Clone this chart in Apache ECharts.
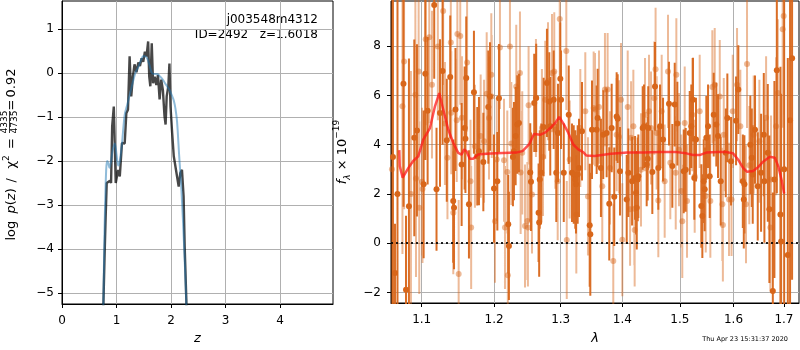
<!DOCTYPE html>
<html>
<head>
<meta charset="utf-8">
<script src="https://cdn.jsdelivr.net/npm/echarts@6/dist/echarts.min.js"></script>
<style>
  html, body { margin: 0; padding: 0; background: #fff; }
  #chart { width: 800px; height: 350px; }
</style>
</head>
<body>
<div id="chart"></div>
<script>
// ---- left panel: log p(z)
var zTicks = [0, 1, 2, 3, 4];
var pTicks = [-5, -4, -3, -2, -1, 0, 1];
var zBlack = [0.745, 0.78, 0.80, 0.82, 0.85, 0.88, 0.90, 0.92, 0.95, 0.985, 1.03, 1.06, 1.10, 1.15, 1.18, 1.21, 1.24, 1.27, 1.30, 1.33, 1.366, 1.40, 1.43, 1.46, 1.49, 1.52, 1.55, 1.58, 1.60, 1.62, 1.646, 1.67, 1.70, 1.73, 1.76, 1.79, 1.82, 1.85, 1.88, 1.90, 1.92, 1.95, 1.97, 1.99, 2.02, 2.05, 2.08, 2.11, 2.14, 2.17, 2.20, 2.23, 2.25, 2.28, 2.29];
var pBlack = [-6.0, -4.2, -3.3, -2.5, -2.5, -2.45, -2.5, -1.21, -0.76, -2.5, -2.2, -2.35, -1.59, -1.6, -0.91, -0.83, 0.38, -0.53, -0.08, 0.2, 0.02, 0.24, 0.16, 0.34, 0.26, 0.49, 0.38, 0.72, -0.08, -0.30, 0.68, -0.23, -0.08, -0.27, -0.04, -0.6, -0.15, -0.38, -0.98, -1.17, -0.53, -0.30, 0.22, -0.76, -1.36, -1.89, -1.93, -2.35, -2.58, -2.27, -2.2, -2.8, -3.94, -5.15, -6.0];
var zBlue = [0.75, 0.78, 0.81, 0.83, 0.85, 0.87, 0.90, 0.93, 0.97, 1.00, 1.03, 1.06, 1.10, 1.15, 1.20, 1.25, 1.30, 1.35, 1.40, 1.45, 1.49, 1.55, 1.60, 1.65, 1.70, 1.75, 1.80, 1.85, 1.90, 1.97, 2.02, 2.05, 2.08, 2.11, 2.15, 2.19, 2.24, 2.27, 2.30];
var pBlue = [-6.0, -3.6, -2.2, -2.0, -2.05, -2.15, -2.0, -1.75, -1.6, -1.85, -2.1, -2.0, -1.6, -0.95, -0.7, -0.45, -0.2, 0.02, 0.14, 0.3, 0.39, 0.36, 0.2, 0.0, -0.02, -0.02, -0.08, -0.15, -0.25, -0.38, -0.52, -0.62, -0.8, -1.1, -1.9, -2.65, -3.94, -4.9, -6.0];

// ---- right panel: spectrum (lambda in micron, flux in 1e-19)
var lamTicks = [1.1, 1.2, 1.3, 1.4, 1.5, 1.6, 1.7];
var fluxTicks = [-2, 0, 2, 4, 6, 8];
var darkWave = [1.0627, 1.0653, 1.0685, 1.0762, 1.0795, 1.0833, 1.0903, 1.0938, 1.1026, 1.1048, 1.1079, 1.1167, 1.1198, 1.1245, 1.1280, 1.1337, 1.1384, 1.1425, 1.1436, 1.1456,
  1.1541, 1.1583, 1.1594, 1.1605, 1.1643, 1.1713, 1.1760, 1.1784, 1.1846, 1.1917, 1.1941, 1.1999, 1.2047, 1.2071, 1.2206, 1.2216, 1.2275, 1.2290, 1.2315, 1.2339, 1.2364,
  1.2533, 1.2544, 1.2593, 1.2623, 1.2659, 1.2668, 1.2677, 1.2700, 1.2736, 1.2787, 1.2823, 1.2838, 1.2891, 1.2931, 1.2958, 1.2994, 1.3005, 1.3048, 1.3126, 1.3178, 1.3205, 1.3230, 1.3241, 1.3268, 1.3289, 1.3337, 1.3461, 1.3471, 1.3498,
  1.3574, 1.3590, 1.3644, 1.3682, 1.3738, 1.3781, 1.3821, 1.3864, 1.3904, 1.3921, 1.3960, 1.4073, 1.4101, 1.4164, 1.4215, 1.4232, 1.4244, 1.4261, 1.4271, 1.4346, 1.4368, 1.4415, 1.4432, 1.4442, 1.4513, 1.4560, 1.4618, 1.4648,
  1.4701, 1.4807, 1.4866, 1.4909, 1.4956, 1.5071, 1.5107, 1.5180, 1.5209, 1.5240, 1.5264, 1.5295, 1.5393, 1.5412, 1.5438, 1.5456, 1.5486, 1.5518, 1.5549, 1.5624, 1.5673, 1.5705, 1.5756, 1.5852, 1.5882,
  1.5953, 1.6049, 1.6093, 1.6180, 1.6199, 1.6211, 1.6327, 1.6355, 1.6374, 1.6419, 1.6473, 1.6539, 1.6593, 1.6605, 1.6673, 1.6705, 1.6774, 1.6806, 1.6855, 1.6928, 1.6942, 1.7004, 1.7079, 1.7125, 1.7167];
var darkFlux = [3.5, -1.21, 2.0, 6.48, -1.89, 1.5, 4.28, 4.58, 2.39, 6.88, 5.38, 9.68, 2.19, 5.29, 7.0, 4.18, 6.75, 1.71, 1.44, 5.43,
  3.2, 4.68, 4.24, 6.71, 1.58, 6.13, 3.53, 3.74, 3.3, 5.53, 5.96, 2.22, 2.52, 5.89, 0.77, -0.11, 3.5, 3.74, 4.35, 4.82, 4.88,
  2.87, 2.5, 5.7, 5.9, 1.24, 0.84, 2.59, 2.86, 4.72, 6.51, 5.76, 4.75, 5.83, 2.86, 4.48, 6.68, 5.83, 2.86, 5.22, 2.86, 2.79, 2.59, 2.39, 2.79, 3.06, 4.55, 0.73, 0.36, 4.61,
  4.61, 5.09, 3.06, 4.41, 4.48, 1.6, 4.68, 1.89, 5.15, 5.06, 2.92, 1.78, 2.86, 2.52, 2.65, 2.05, 1.44, 2.59, 2.72, 4.68, 4.75, 3.2, 3.43, 4.68, 2.89, 6.37, 3.06, 4.75,
  4.21, 5.67, 3.14, 5.63, 4.86, 2.92, 2.98, 4.48, 4.75, 5.83, 2.65, 4.21, 1.51, 1.1, 2.52, 2.19, 4.28, 4.75, 2.72, 5.22, 4.82, 4.35, 2.52, 3.67, 5.09,
  3.33, 4.97, 6.24, 2.52, 1.78, 2.39, 4.0, 3.47, 2.79, 4.61, 2.31, 2.86, 4.41, 2.52, 3.67, 1.38, -1.94, 2.59, 7.03, 1.17, 0.07, 3.0, -0.48, 5.0, 7.51];
var darkErr = [9, 2, 8, 5, 3, 6, 4, 3.5, 3, 3.5, 3, 3, 2.5, 3, 3, 2.5, 2.5, 2.5, 2.5, 2.5,
  2.5, 2.5, 2.2, 2.5, 2.2, 2.5, 2, 2.2, 2, 2.3, 2.2, 2.2, 2, 2.2, 2, 2.2, 2, 2, 2, 2, 2,
  2, 2, 2, 2.2, 2, 2.2, 2, 2, 2, 2.2, 2, 2, 2, 2, 2, 2.3, 2, 2, 2, 2, 2, 2, 2, 2, 2, 2, 2.5, 2.5, 2,
  1.8, 2, 2, 1.8, 1.8, 2.3, 1.8, 2, 1.8, 1.8, 1.8, 1.8, 1.8, 1.8, 1.7, 1.7, 1.7, 1.7, 1.7, 1.7, 1.7, 1.7, 1.7, 1.7, 1.7, 1.8, 1.7, 1.7,
  1.7, 1.7, 1.7, 1.7, 1.7, 1.7, 1.7, 1.7, 1.7, 1.7, 1.7, 1.7, 1.7, 1.7, 1.7, 1.7, 1.7, 1.7, 1.7, 1.7, 1.7, 1.7, 1.8, 1.8, 1.8,
  1.8, 1.8, 1.8, 1.9, 2, 2, 2, 2, 2, 2.2, 2.2, 2.4, 2.5, 2.5, 2.8, 3, 4, 4, 5, 6, 6, 9, 8, 10, 9];
var lightWave = [1.0614, 1.0749, 1.0770, 1.0859, 1.0917, 1.0925, 1.0960, 1.0968, 1.1004, 1.1011, 1.1054, 1.1101, 1.1137, 1.1216, 1.1288, 1.1312, 1.1346, 1.1392, 1.1398, 1.1426, 1.1473, 1.1482, 1.1500,
  1.1522, 1.1545, 1.1617, 1.1665, 1.1674, 1.1727, 1.1808, 1.1856, 1.1894, 1.1927, 1.1960, 1.1966, 1.2013, 1.2038, 1.2085, 1.2144, 1.2158, 1.2192, 1.2200, 1.2231, 1.2251, 1.2324, 1.2379, 1.2389, 1.2413, 1.2454,
  1.2490, 1.2498, 1.2508, 1.2559, 1.2619, 1.2710, 1.2726, 1.2761, 1.2803, 1.2865, 1.2900, 1.2916, 1.2953, 1.2985, 1.3088, 1.3095, 1.3141, 1.3246, 1.3310, 1.3390, 1.3433, 1.3525,
  1.3547, 1.3612, 1.3666, 1.3710, 1.3754, 1.3793, 1.3848, 1.3904, 1.3943, 1.3977, 1.3999, 1.4090, 1.4130, 1.4147, 1.4186, 1.4203, 1.4208, 1.4317, 1.4386, 1.4455, 1.4490, 1.4547, 1.4570, 1.4589, 1.4618, 1.4677,
  1.4730, 1.4789, 1.4830, 1.4927, 1.4938, 1.4986, 1.5027, 1.5045, 1.5089, 1.5131, 1.5227, 1.5271, 1.5363, 1.5475, 1.5561, 1.5598, 1.5643, 1.5738, 1.5787, 1.5797, 1.5814, 1.5914,
  1.5962, 1.5985, 1.6068, 1.6132, 1.6242, 1.6262, 1.6307, 1.6393, 1.6505, 1.6639, 1.6724, 1.6738, 1.6841, 1.6875, 1.6974, 1.6994];
var lightFlux = [3.0, 5.56, 7.38, 2.0, 6.03, 2.63, 6.98, 1.44, 2.5, 2.2, 8.29, 8.37, 6.44, 7.99, 9.43, 4.86, 3.47, 8.15, 5.3, 1.24, 4.99, 8.5, -1.25,
  8.42, 5.1, 7.34, 2.52, 0.64, 3.94, 4.35, 4.14, 6.07, 5.09, 6.84, 5.96, 0.89, 3.4, 7.95, 3.37, 0.64, 2.89, -1.3, 7.99, 4.05, 6.37, 6.91, 2.87, 3.67, 0.7,
  0.9, 0.64, 5.6, 1.98, 5.9, 4.68, 3.5, 5.83, 6.58, 6.91, 6.98, 4.61, 2.52, 9.11, 7.81, 0.13, 3.4, 1.17, 4.68, 5.36, 1.9, 5.49,
  5.43, 5.53, 2.31, 6.24, 6.24, 3.06, -0.72, 4.41, 4.32, 5.83, 0.14, 5.53, 1.38, 4.28, 4.75, 1.4, 0.54, 2.98, 5.22, 5.36, 4.68, 5.89, 7.07, 4.48, 1.73, 5.36,
  2.52, 6.98, 3.27, 2.86, 6.84, 3.8, 2.12, 0.89, 4.88, 1.71, 5.22, 2.72, 5.36, 1.92, 1.71, 6.35, 6.44, 5.96, 1.58, 0.74, 4.41, 1.78,
  1.78, 5.36, 6.44, 4.75, 1.58, 7.28, 3.17, 4.41, 4.14, 5.1, 0.64, 2.59, 4.75, 6.1, 8.69, 9.23];
var lightErr = [9, 6, 6, 5, 4, 4, 4, 3.5, 3, 3, 3.5, 3.5, 3, 3, 3, 2.5, 2.5, 3, 2.5, 2.5, 2.5, 3, 3,
  2.8, 2.5, 2.8, 2.5, 2.5, 2.5, 2.5, 2.5, 2.5, 2.5, 2.5, 2.5, 2.5, 2.5, 2.5, 2.5, 2.5, 2.5, 2.5, 2.5, 2.5, 2.5, 2.5, 2.5, 2.5, 2.5,
  2.4, 2.4, 2.4, 2.4, 2.4, 2.4, 2.4, 2.4, 2.4, 2.4, 2.4, 2.4, 2.4, 2.5, 2.4, 2.4, 2.4, 2.4, 2.4, 2.4, 2.4, 2.3,
  2.3, 2.3, 2.3, 2.3, 2.3, 2.3, 2.3, 2.3, 2.3, 2.3, 2.3, 2.3, 2.3, 2.3, 2.3, 2.3, 2.3, 2.3, 2.3, 2.3, 2.3, 2.3, 2.5, 2.3, 2.3, 2.3,
  2.3, 2.3, 2.3, 2.3, 2.3, 2.3, 2.3, 2.3, 2.3, 2.3, 2.3, 2.3, 2.3, 2.3, 2.3, 2.3, 2.3, 2.3, 2.3, 2.3, 2.3, 2.3,
  2.3, 2.3, 2.3, 2.3, 2.4, 2.6, 2.4, 2.4, 2.5, 2.5, 2.6, 2.6, 2.8, 3, 4, 4];
var modelWave = [1.0708, 1.0714, 1.0752, 1.0826, 1.0891, 1.0955, 1.1021, 1.1110, 1.1177, 1.1235, 1.1289, 1.1357, 1.1425, 1.1494, 1.1540, 1.1576, 1.1609, 1.1655, 1.1701, 1.1771, 1.1889, 1.2031, 1.2320, 1.2417, 1.2515, 1.2589, 1.2689, 1.2764, 1.2840, 1.2916, 1.2977, 1.3043, 1.3120, 1.3198, 1.3277, 1.3356, 1.3409, 1.3541, 1.3808, 1.4082, 1.4362, 1.4648, 1.4939, 1.5118, 1.5240, 1.5361, 1.5485, 1.5704, 1.5862, 1.5991, 1.6088, 1.6185, 1.6263, 1.6381, 1.6480, 1.6580, 1.6714, 1.6815, 1.6883, 1.6950, 1.7004];
var modelFlux = [3.78, 3.13, 2.66, 3.06, 3.35, 3.53, 4.21, 4.68, 5.56, 6.10, 5.43, 4.62, 4.08, 3.67, 3.60, 3.81, 3.74, 3.43, 3.43, 3.60, 3.63, 3.65, 3.68, 3.74, 4.01, 4.44, 4.41, 4.50, 4.68, 4.89, 5.13, 4.86, 4.48, 4.01, 3.81, 3.70, 3.56, 3.54, 3.63, 3.68, 3.68, 3.70, 3.70, 3.65, 3.58, 3.58, 3.68, 3.70, 3.70, 3.65, 3.40, 3.06, 2.90, 2.93, 3.09, 3.31, 3.51, 3.47, 3.13, 2.59, 2.02];

var FONT = 'DejaVu Sans';
var DARK = '#d8661a';

function minus(v) {
  return String(v).replace('-', '\u2212');
}

function zip(xs, ys) {
  return xs.map(function (x, i) { return [x, ys[i]]; });
}

// error bars as one broken line: (x, lo) -> (x, hi), then a gap
function errBars(waves, flux, err, color, opacity, z) {
  var pts = [];
  waves.forEach(function (w, i) {
    var x = Math.log(w);
    pts.push([x, flux[i] - err[i]], [x, flux[i] + err[i]], [x, '-']);
  });
  return {
    type: 'line',
    xAxisIndex: 1,
    yAxisIndex: 1,
    z: z,
    silent: true,
    showSymbol: false,
    symbol: 'none',
    connectNulls: false,
    clip: true,
    lineStyle: { color: color, width: 2, opacity: opacity, cap: 'butt' },
    data: pts
  };
}

function dots(waves, flux, color, opacity, z) {
  return {
    type: 'scatter',
    xAxisIndex: 1,
    yAxisIndex: 1,
    z: z,
    silent: true,
    symbolSize: 6,
    itemStyle: { color: color, opacity: opacity },
    data: waves.map(function (w, i) { return [Math.log(w), flux[i]]; })
  };
}

function vtext(x, y, text, size, extra) {
  return {
    type: 'text', x: x, y: y, rotation: Math.PI / 2,
    style: Object.assign({
      text: text, fontSize: size, fontFamily: FONT, fill: '#000',
      align: 'left', verticalAlign: 'middle', textAlign: 'left', textVerticalAlign: 'middle'
    }, extra || {})
  };
}

var tickStyle = { show: true, inside: false, length: 4, lineStyle: { color: '#000', width: 1 } };
var gridLine = { show: true, lineStyle: { color: '#b0b0b0', width: 1 } };
var labelBase = { color: '#000', fontFamily: FONT, fontSize: 12 };

var chart = echarts.init(document.getElementById('chart'));
chart.setOption({
  animation: false,
  textStyle: { fontFamily: FONT },
  grid: [
    { left: 62, top: 1, width: 271, height: 303, show: true, borderColor: '#000', borderWidth: 1 },
    { left: 391, top: 1, width: 408, height: 303, show: true, borderColor: '#000', borderWidth: 1 }
  ],
  xAxis: [{
    gridIndex: 0, type: 'value', min: 0, max: 4.97,
    name: 'z', nameLocation: 'middle', nameGap: 28,
    nameTextStyle: { color: '#000', fontFamily: FONT, fontSize: 13, fontStyle: 'italic' },
    axisLine: { show: true, onZero: false, lineStyle: { color: '#000' } },
    axisTick: Object.assign({ customValues: zTicks }, tickStyle),
    axisLabel: Object.assign({ customValues: zTicks, margin: 11, formatter: minus }, labelBase),
    splitLine: gridLine
  }, {
    gridIndex: 1, type: 'value', min: Math.log(1.0602), max: Math.log(1.731),
    name: 'λ', nameLocation: 'middle', nameGap: 29,
    nameTextStyle: { color: '#000', fontFamily: FONT, fontSize: 13, fontStyle: 'italic' },
    axisLine: { show: true, onZero: false, lineStyle: { color: '#000' } },
    axisTick: Object.assign({ customValues: lamTicks.map(Math.log) }, tickStyle),
    axisLabel: Object.assign({
      customValues: lamTicks.map(Math.log), margin: 11,
      formatter: function (v) { return Math.exp(v).toFixed(1); }
    }, labelBase),
    splitLine: gridLine
  }],
  yAxis: [{
    gridIndex: 0, type: 'value', min: -5.25, max: 1.64,
    axisLine: { show: true, onZero: false, lineStyle: { color: '#000' } },
    axisTick: Object.assign({ customValues: pTicks }, tickStyle),
    axisLabel: Object.assign({ customValues: pTicks, margin: 8, formatter: minus }, labelBase),
    splitLine: gridLine
  }, {
    gridIndex: 1, type: 'value', min: -2.43, max: 9.84,
    name: '{i|f}{sub|λ}{n| × 10}{sup|−19}', nameLocation: 'middle', nameGap: 34,
    nameTextStyle: {
      color: '#000', fontFamily: FONT, fontSize: 12,
      rich: {
        i: { fontStyle: 'italic', fontSize: 13, fontFamily: FONT, lineHeight: 20 },
        sub: { fontStyle: 'italic', fontSize: 9, fontFamily: FONT, verticalAlign: 'bottom', lineHeight: 20 },
        n: { fontSize: 13, fontFamily: FONT, lineHeight: 20 },
        sup: { fontSize: 9, fontFamily: FONT, verticalAlign: 'top', lineHeight: 20 }
      }
    },
    axisLine: { show: true, onZero: false, lineStyle: { color: '#000' } },
    axisTick: Object.assign({ customValues: fluxTicks }, tickStyle),
    axisLabel: Object.assign({ customValues: fluxTicks, margin: 10, formatter: minus }, labelBase),
    splitLine: gridLine
  }],
  graphic: [
    {
      type: 'text', x: 318, y: 20,
      style: { text: 'j003548m4312', font: '12px "DejaVu Sans"', fill: '#000', align: 'right', verticalAlign: 'middle', textAlign: 'right', textVerticalAlign: 'middle' }
    },
    {
      type: 'text', x: 318, y: 35,
      style: { text: 'ID=2492   z=1.6018', font: '12px "DejaVu Sans"', fill: '#000', align: 'right', verticalAlign: 'middle', textAlign: 'right', textVerticalAlign: 'middle' }
    },
    // y label of the left panel, laid out piece by piece like the mathtext original
    vtext(11.5, 240.5, 'log', 13),
    vtext(11.5, 213.5, '{i|p}{n|(}{i|z}{n|)}', 13, {
      rich: {
        n: { fontSize: 13, fontFamily: FONT, fill: '#000' },
        i: { fontSize: 13, fontFamily: FONT, fontStyle: 'italic', fill: '#000' }
      }
    }),
    vtext(11.5, 182.5, '/', 13),
    vtext(11.5, 168.5, '{i|χ}{s|2}', 13, {
      rich: {
        i: { fontSize: 13, fontFamily: FONT, fill: '#000', lineHeight: 18 },
        s: { fontSize: 9, fontFamily: FONT, fill: '#000', verticalAlign: 'top', lineHeight: 18 }
      }
    }),
    vtext(11.5, 149, '=', 13),
    {
      type: 'text', x: 5, y: 122, rotation: Math.PI / 2,
      style: { text: '4335', font: '9px "DejaVu Sans"', fill: '#000', align: 'center', verticalAlign: 'middle', textAlign: 'center', textVerticalAlign: 'middle' }
    },
    {
      type: 'line', shape: { x1: 9.5, y1: 111, x2: 9.5, y2: 133 },
      style: { stroke: '#000', lineWidth: 0.8 }
    },
    {
      type: 'text', x: 14.5, y: 122, rotation: Math.PI / 2,
      style: { text: '4735', font: '9px "DejaVu Sans"', fill: '#000', align: 'center', verticalAlign: 'middle', textAlign: 'center', textVerticalAlign: 'middle' }
    },
    vtext(11.5, 110.5, '=', 13),
    vtext(11.5, 97.5, '0.92', 13),
    {
      type: 'text', x: 788, y: 339,
      style: { text: 'Thu Apr 23 15:31:37 2020', font: '6.5px "DejaVu Sans"', fill: '#000', align: 'right', verticalAlign: 'middle', textAlign: 'right', textVerticalAlign: 'middle' }
    }
  ],
  series: [
    {
      type: 'line', xAxisIndex: 0, yAxisIndex: 0, z: 3, silent: true,
      showSymbol: false, symbol: 'none',
      lineStyle: { color: '#000', width: 2.4, opacity: 0.72 },
      data: zip(zBlack, pBlack)
    },
    {
      type: 'line', xAxisIndex: 0, yAxisIndex: 0, z: 4, silent: true,
      showSymbol: false, symbol: 'none', smooth: 0.3,
      lineStyle: { color: '#1f77b4', width: 2, opacity: 0.5 },
      data: zip(zBlue, pBlue)
    },
    errBars(lightWave, lightFlux, lightErr, DARK, 0.45, 2),
    dots(lightWave, lightFlux, DARK, 0.45, 3),
    errBars(darkWave, darkFlux, darkErr, DARK, 0.95, 4),
    dots(darkWave, darkFlux, DARK, 1, 5),
    {
      type: 'line', xAxisIndex: 1, yAxisIndex: 1, z: 6, silent: true,
      showSymbol: false, symbol: 'none',
      lineStyle: { color: '#ff1a1a', width: 2.5, opacity: 0.75 },
      data: modelWave.map(function (w, i) { return [Math.log(w), modelFlux[i]]; }),
      markLine: {
        silent: true, symbol: 'none', label: { show: false },
        lineStyle: { color: '#000', type: [2, 3], width: 2, opacity: 0.85 },
        data: [{ yAxis: 0 }]
      }
    }
  ]
});
</script>
</body>
</html>
